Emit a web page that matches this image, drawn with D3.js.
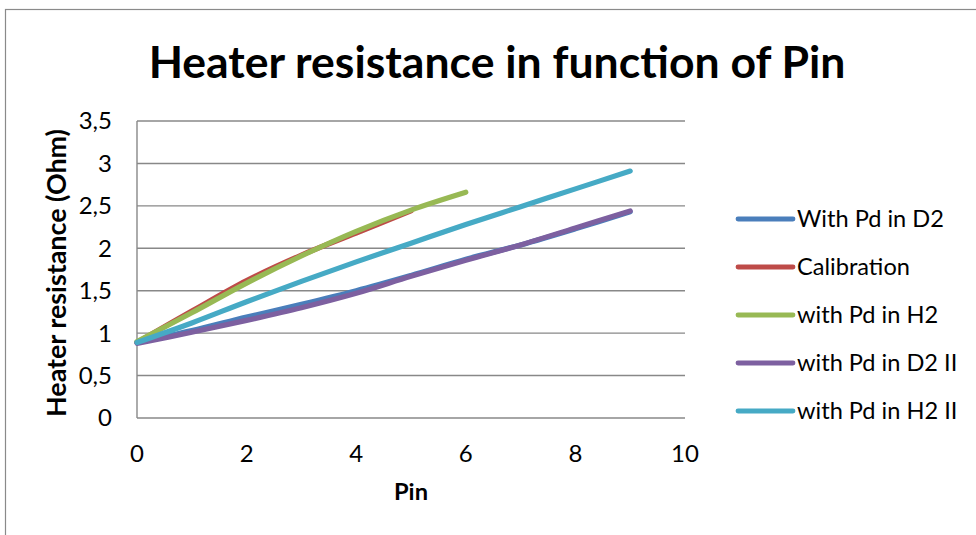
<!DOCTYPE html>
<html><head><meta charset="utf-8">
<script src="https://cdn.jsdelivr.net/npm/d3@7"></script>
<style>body{margin:0;background:#fff}svg{display:block}</style>
</head><body>
<script>
// ---- data ----
const pinAll = [0,1,2,3,4,5,6,7,8,9];
const pinCal = [0,1,2,3,4,5];
const pinH2  = [0,1,2,3,4,5,6];
const withPdD2   = [0.89,1.03,1.19,1.34,1.50,1.68,1.87,2.04,2.23,2.43];
const calibration= [0.89,1.26,1.62,1.92,2.18,2.44];
const withPdH2   = [0.90,1.24,1.59,1.91,2.20,2.45,2.66];
const withPdD2II = [0.88,1.01,1.15,1.30,1.47,1.67,1.86,2.04,2.24,2.44];
const withPdH2II = [0.89,1.12,1.37,1.61,1.84,2.06,2.28,2.49,2.70,2.91];
const seriesNames = ["With Pd in D2","Calibration","with Pd in H2","with Pd in D2 II","with Pd in H2 II"];
const seriesColors = ["#4A7EBB","#BE4B48","#98B954","#7D60A0","#46AAC5"];
const xTicks = [0,2,4,6,8,10];
const yTicks = [0,0.5,1,1.5,2,2.5,3,3.5];
const titleText = "Heater resistance in function of Pin";
const xTitle = "Pin";
const yTitle = "Heater resistance (Ohm)";

const series = [
  {x: pinAll, y: withPdD2},
  {x: pinCal, y: calibration},
  {x: pinH2,  y: withPdH2},
  {x: pinAll, y: withPdD2II},
  {x: pinAll, y: withPdH2II}
].map((s,i)=>({name:seriesNames[i], color:seriesColors[i], pts:s.x.map((v,j)=>[v,s.y[j]])}));

const W = 976, H = 535;
const FONT = "Lato, 'Open Sans', sans-serif";
const svg = d3.select("body").append("svg").attr("width",W).attr("height",H);

// chart frame
svg.append("rect").attr("x",5.5).attr("y",9.5).attr("width",W+20).attr("height",H+20)
  .attr("fill","none").attr("stroke","#8a8a8a").attr("stroke-width",1.2);

const x = d3.scaleLinear().domain([0,10]).range([137,685]);
const y = d3.scaleLinear().domain([0,3.5]).range([418,121]);
const fmt = v => d3.format("")(v).replace(".",",");

function fit(sel, target){
  const base = parseFloat(sel.attr("font-size"));
  const w = sel.node().getComputedTextLength();
  sel.attr("font-size", base*target/w);
  return base*target/w;
}

// grid
svg.append("g").selectAll("line").data(yTicks).join("line")
  .attr("x1",x(0)).attr("x2",x(10)).attr("y1",d=>y(d)).attr("y2",d=>y(d))
  .attr("stroke","#888").attr("stroke-width",1.4);
svg.append("line").attr("x1",x(0)).attr("x2",x(0)).attr("y1",y(3.5)).attr("y2",y(0))
  .attr("stroke","#888").attr("stroke-width",1.4);

// tick labels
svg.append("g").selectAll("text").data(yTicks).join("text")
  .attr("x",112).attr("y",d=>y(d)).attr("dy","0.35em").attr("text-anchor","end")
  .attr("font-family",FONT).attr("font-size",24).attr("fill","#000").text(fmt);
svg.append("g").selectAll("text").data(xTicks).join("text")
  .attr("x",d=>x(d)).attr("y",462).attr("text-anchor","middle")
  .attr("font-family",FONT).attr("font-size",24).attr("fill","#000").text(fmt);

// lines
const line = d3.line().x(d=>x(d[0])).y(d=>y(d[1])).curve(d3.curveCatmullRom.alpha(0.5));
svg.append("g").selectAll("path").data(series).join("path")
  .attr("d",d=>line(d.pts)).attr("fill","none").attr("stroke",d=>d.color)
  .attr("stroke-width",5.2).attr("stroke-linecap","round").attr("stroke-linejoin","round");

// titles
const t = svg.append("text").attr("x",497).attr("y",78).attr("text-anchor","middle")
  .attr("font-family",FONT).attr("font-weight","bold").attr("font-size",40).attr("fill","#000").text(titleText);
fit(t,697);
const xt = svg.append("text").attr("x",411).attr("y",500).attr("text-anchor","middle")
  .attr("font-family",FONT).attr("font-weight","bold").attr("font-size",22).attr("fill","#000").text(xTitle);
fit(xt,34);
const yt = svg.append("text").attr("transform","translate(66,273) rotate(-90)").attr("text-anchor","middle")
  .attr("font-family",FONT).attr("font-weight","bold").attr("font-size",22).attr("fill","#000").text(yTitle);
fit(yt,288);

// legend
const lg = svg.append("g").selectAll("g").data(series).join("g")
  .attr("transform",(d,i)=>`translate(0,${219+i*48})`);
lg.append("line").attr("x1",738).attr("x2",793).attr("y1",0).attr("y2",0)
  .attr("stroke",d=>d.color).attr("stroke-width",4.8).attr("stroke-linecap","round");
const lt = lg.append("text").attr("x",797).attr("y",0).attr("dy","0.35em")
  .attr("font-family",FONT).attr("font-size",24).attr("fill","#000").text(d=>d.name);
const fs = fit(d3.select(lt.nodes()[0]),147);
lt.attr("font-size",fs);
</script>
</body></html>
